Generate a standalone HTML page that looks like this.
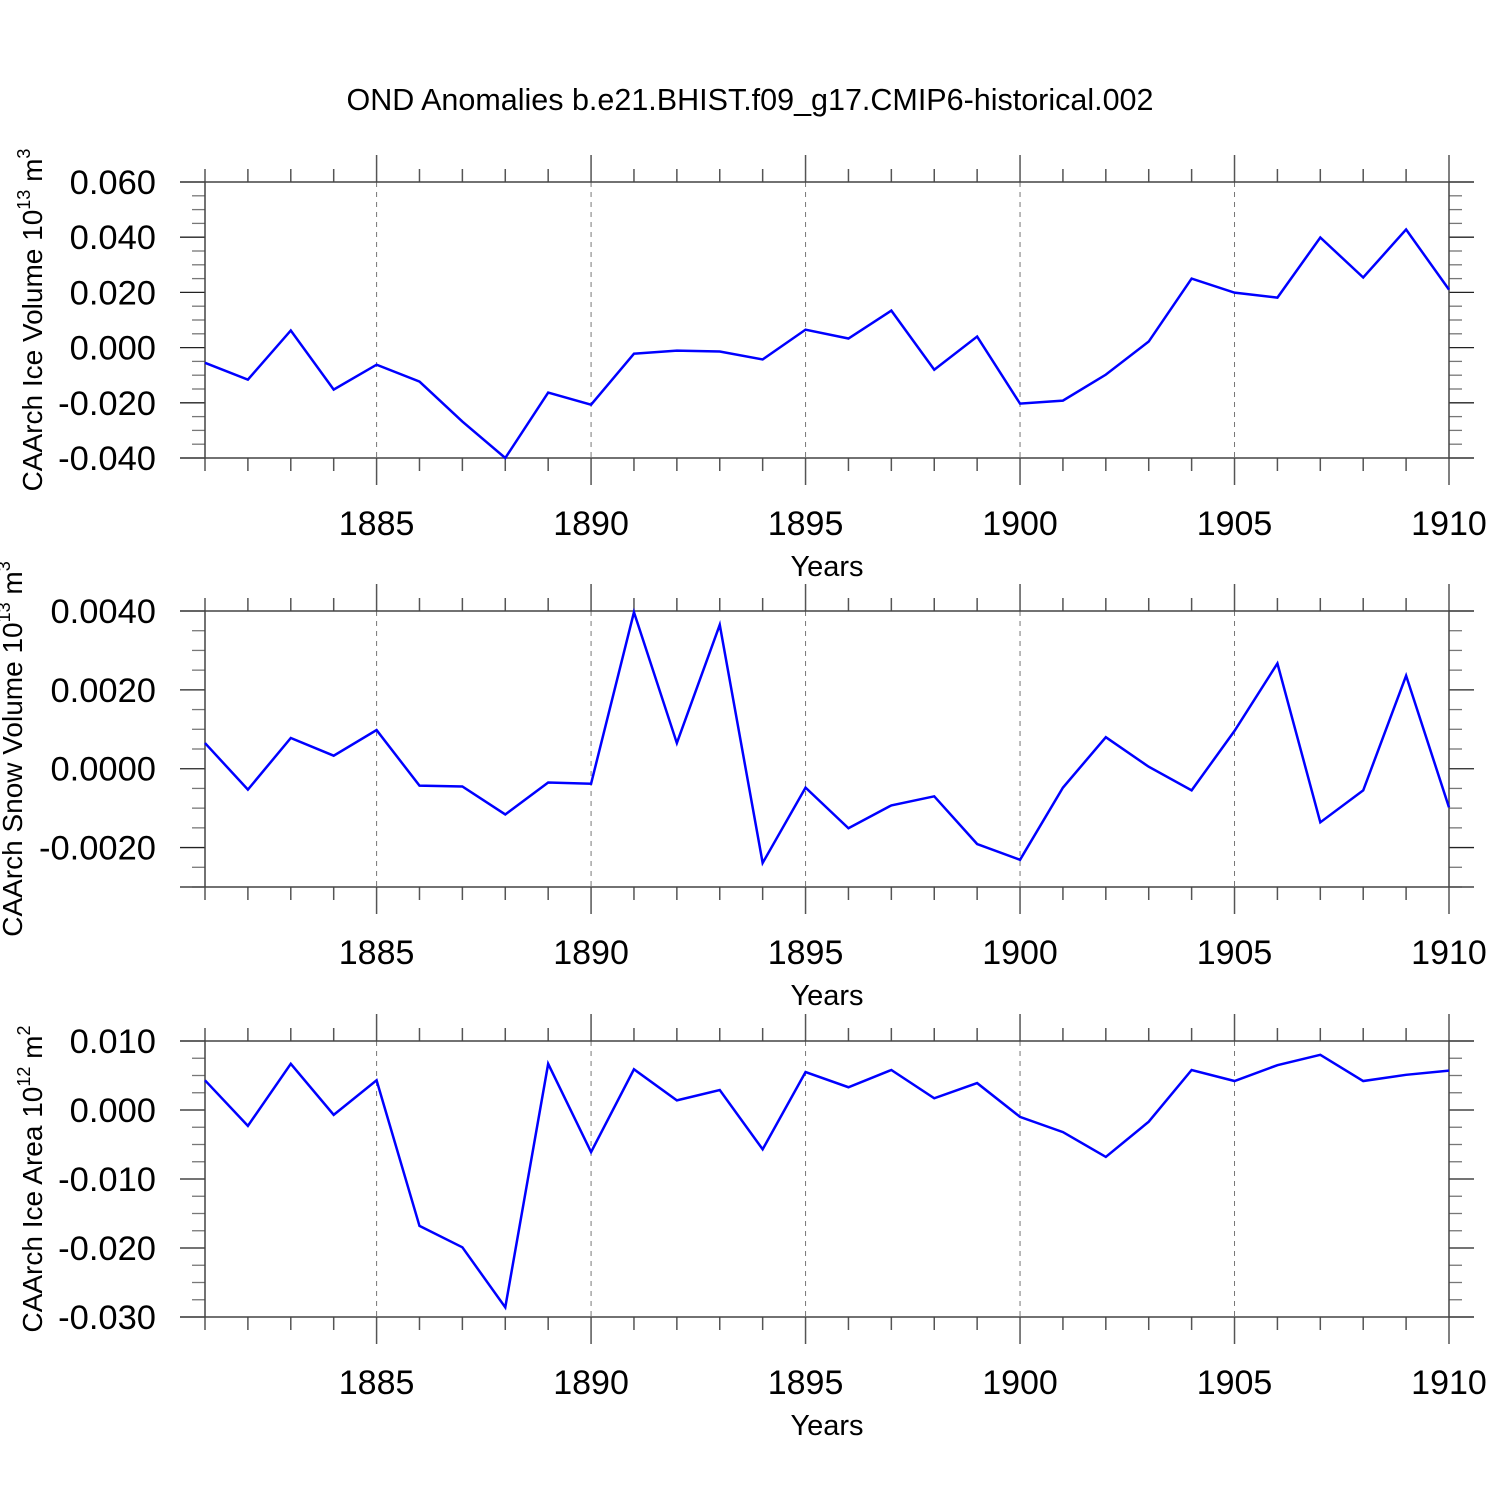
<!DOCTYPE html>
<html><head><meta charset="utf-8"><style>
body{margin:0;background:#fff}
svg{display:block;font-family:"Liberation Sans",sans-serif}
</style></head><body>
<svg id="chart" width="1500" height="1500" viewBox="0 0 1500 1500" xmlns="http://www.w3.org/2000/svg">
<text x="750" y="110" font-size="30.5" text-anchor="middle">OND Anomalies b.e21.BHIST.f09_g17.CMIP6-historical.002</text>
</svg>
<script>
const years=[1881,1882,1883,1884,1885,1886,1887,1888,1889,1890,1891,1892,1893,1894,1895,1896,1897,1898,1899,1900,1901,1902,1903,1904,1905,1906,1907,1908,1909,1910];
const xTicks=[1885,1890,1895,1900,1905,1910];
const iceVol=[-0.0055,-0.0116,0.0062,-0.0152,-0.0062,-0.0123,-0.0268,-0.040,-0.0163,-0.0207,-0.0022,-0.0011,-0.0014,-0.0043,0.0065,0.0033,0.0134,-0.008,0.004,-0.0203,-0.0192,-0.0098,0.0022,0.025,0.0199,0.0181,0.0399,0.0254,0.0428,0.021];
const snowVol=[0.00065,-0.00053,0.00078,0.00033,0.00098,-0.00043,-0.00045,-0.00116,-0.00035,-0.00038,0.00397,0.00065,0.00365,-0.00239,-0.00048,-0.00151,-0.00093,-0.0007,-0.00191,-0.00231,-0.00048,0.0008,0.00005,-0.00055,0.00096,0.00267,-0.00136,-0.00055,0.00236,-0.00098];
const iceArea=[0.0043,-0.0023,0.0067,-0.0007,0.0043,-0.0168,-0.0199,-0.0286,0.0067,-0.0061,0.0059,0.0014,0.0029,-0.0057,0.0055,0.0033,0.0058,0.0017,0.0039,-0.001,-0.0032,-0.0068,-0.0017,0.0058,0.0042,0.0065,0.008,0.0042,0.0051,0.0057];
const ticks1=[0.06,0.04,0.02,0,-0.02,-0.04];
const labels1=["0.060","0.040","0.020","0.000","-0.020","-0.040"];
const ticks2=[0.004,0.002,0,-0.002];
const labels2=["0.0040","0.0020","0.0000","-0.0020"];
const ticks3=[0.01,0,-0.01,-0.02,-0.03];
const labels3=["0.010","0.000","-0.010","-0.020","-0.030"];

const NS="http://www.w3.org/2000/svg";
const svg=document.getElementById('chart');
const X0=205,X1=1449;
function x(yr){return X0+(yr-1881)/(1910-1881)*(X1-X0);}
function mk(tag,attrs,parent){const e=document.createElementNS(NS,tag);for(const k in attrs)e.setAttribute(k,attrs[k]);(parent||svg).appendChild(e);return e;}

function panel(id,top,bot,ymax,ymin,minorStep,ticks,labels,data,title1,sup,unit,usup,tx0){
  const g=mk('g',{});
  
  
  const y=v=>top+(ymax-v)/(ymax-ymin)*(bot-top);
  xTicks.forEach(t=>{const l=mk('line',{x1:x(t),x2:x(t),y1:top,y2:bot,stroke:'#777','stroke-width':1,'stroke-dasharray':'5,5'},g);
    });
  years.forEach(yr=>{const major=xTicks.includes(yr);const len=major?27:13;
    mk('line',{x1:x(yr),x2:x(yr),y1:top-len,y2:top,stroke:'#555','stroke-width':1.5},g);
    mk('line',{x1:x(yr),x2:x(yr),y1:bot,y2:bot+len,stroke:'#555','stroke-width':1.5},g);});
  const n=Math.round((ymax-ymin)/minorStep);
  for(let i=0;i<=n;i++){const v=ymax-i*minorStep;
    const major=ticks.some(t=>Math.abs(t-v)<minorStep/10);const len=major?25:13;
    mk('line',{x1:X0-len,x2:X0,y1:y(v),y2:y(v),stroke:major?'#222':'#777','stroke-width':1.3},g);
    mk('line',{x1:X1,x2:X1+len,y1:y(v),y2:y(v),stroke:major?'#222':'#777','stroke-width':1.3},g);}
  mk('line',{x1:X0,x2:X0,y1:top,y2:bot,stroke:'#444','stroke-width':1.5},g);
  mk('line',{x1:X1,x2:X1,y1:top,y2:bot,stroke:'#444','stroke-width':1.5},g);
  mk('line',{x1:X0-25,x2:X1+25,y1:top,y2:top,stroke:'#444','stroke-width':1.5},g);
  mk('line',{x1:X0-25,x2:X1+25,y1:bot,y2:bot,stroke:'#444','stroke-width':1.5},g);
  ticks.forEach((t,i)=>{const tx=mk('text',{x:156,y:y(t)+12,'font-size':34.5,'text-anchor':'end'},g);tx.textContent=labels[i];
    });
  xTicks.forEach(t=>{const tx=mk('text',{x:x(t),y:bot+77,'font-size':34,'text-anchor':'middle'},g);tx.textContent=t;
    });
  const xt=mk('text',{x:827,y:bot+118,'font-size':29,'text-anchor':'middle'},g);xt.textContent='Years';
  
  const cy=(top+bot)/2;
  const yt=mk('text',{x:0,y:0,'font-size':28,'text-anchor':'middle',transform:'translate('+tx0+','+cy+') rotate(-90)'},g);
  
  const s1=mk('tspan',{},yt);s1.textContent=title1;
  const s2=mk('tspan',{dy:-12,'font-size':18},yt);s2.textContent=sup;
  const s3=mk('tspan',{dy:12},yt);s3.textContent=' '+unit;
  const s4=mk('tspan',{dy:-12,'font-size':18},yt);s4.textContent=usup;
  const pts=data.map((v,i)=>x(years[i])+','+y(v)).join(' ');
  const pl=mk('polyline',{points:pts,fill:'none',stroke:'#0000ff','stroke-width':2.5,'stroke-linejoin':'miter'},g);
  
}
panel('ice-volume',182,458,0.06,-0.04,0.005,ticks1,labels1,iceVol,'CAArch Ice Volume 10','13','m','3',42);
panel('snow-volume',611,887,0.004,-0.003,0.0005,ticks2,labels2,snowVol,'CAArch Snow Volume 10','13','m','3',22);
panel('ice-area',1041,1317,0.01,-0.03,0.0025,ticks3,labels3,iceArea,'CAArch Ice Area 10','12','m','2',42);
</script>
</body></html>
